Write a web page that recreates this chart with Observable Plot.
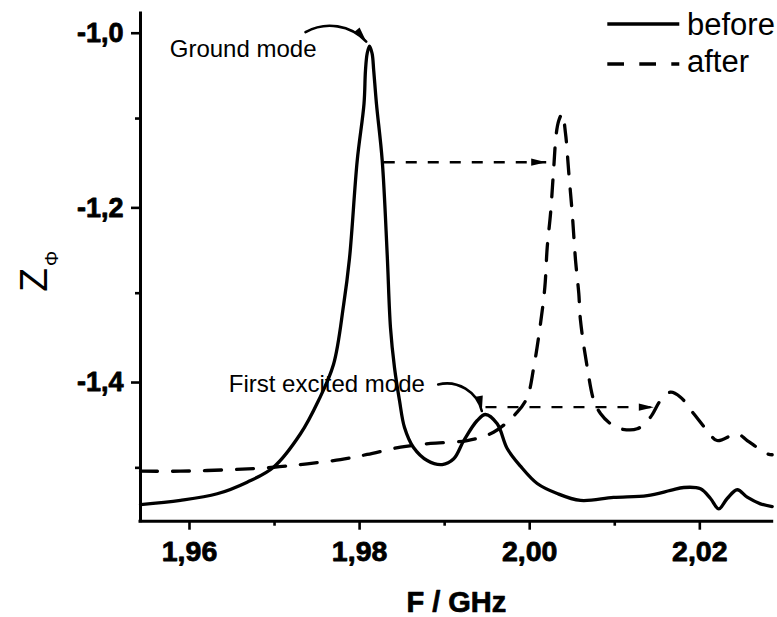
<!DOCTYPE html>
<html><head><meta charset="utf-8">
<script src="https://cdn.jsdelivr.net/npm/d3@7"></script>
<script src="https://cdn.jsdelivr.net/npm/@observablehq/plot@0.6"></script>
<style>
body{margin:0;background:#fff;}
#wrap{position:relative;width:777px;height:617px;}
#wrap svg text{font-family:'Liberation Sans',Arial,Helvetica,sans-serif;}
#legend{position:absolute;left:0;top:0;pointer-events:none}
</style></head><body><div id="wrap"></div>
<script>
// ---- data (F in GHz, Z_phi) ----
const beforeF = [1.95424,1.95894,1.96326,1.96678,1.96988,1.97305,1.97517,1.97693,1.97811,1.97881,1.97972,1.98052,1.98069,1.98089,1.98116,1.98147,1.98166,1.98198,1.98266,1.98324,1.98363,1.98410,1.98469,1.98528,1.98634,1.98795,1.98971,1.99107,1.99225,1.99383,1.99480,1.99618,1.99735,1.99892,2.00088,2.00323,2.00597,2.00985,2.01382,2.01655,2.01812,2.02008,2.02126,2.02223,2.02322,2.02440,2.02557,2.02713,2.02851];
const beforeZ = [-1.5420,-1.5373,-1.5297,-1.5164,-1.4993,-1.4610,-1.4229,-1.3817,-1.3141,-1.2603,-1.1481,-1.0828,-1.0450,-1.0255,-1.0170,-1.0255,-1.0450,-1.0828,-1.1481,-1.2546,-1.3393,-1.3851,-1.4229,-1.4538,-1.4767,-1.4916,-1.4962,-1.4896,-1.4687,-1.4458,-1.4389,-1.4496,-1.4778,-1.4981,-1.5179,-1.5294,-1.5373,-1.5339,-1.5317,-1.5259,-1.5225,-1.5240,-1.5351,-1.5470,-1.5351,-1.5251,-1.5336,-1.5412,-1.5443];
const afterF = [1.95424,1.95894,1.96517,1.96988,1.97384,1.97775,1.98089,1.98481,1.98834,1.99265,1.99574,1.99853,1.99971,2.00048,2.00127,2.00178,2.00206,2.00245,2.00283,2.00312,2.00342,2.00382,2.00421,2.00460,2.00500,2.00539,2.00577,2.00597,2.00676,2.00754,2.00832,2.00950,2.01068,2.01264,2.01420,2.01538,2.01655,2.01773,2.01929,2.02087,2.02204,2.02440,2.02557,2.02792,2.02851];
const afterZ = [-1.5038,-1.5038,-1.5019,-1.4993,-1.4954,-1.4905,-1.4847,-1.4763,-1.4721,-1.4687,-1.4592,-1.4363,-1.4191,-1.3847,-1.3347,-1.2931,-1.2473,-1.2087,-1.1557,-1.1175,-1.1023,-1.0946,-1.1171,-1.1629,-1.2087,-1.2626,-1.3003,-1.3312,-1.3847,-1.4229,-1.4378,-1.4496,-1.4553,-1.4553,-1.4420,-1.4229,-1.4134,-1.4191,-1.4381,-1.4572,-1.4687,-1.4610,-1.4687,-1.4839,-1.4850];
const xMajor = [1.96, 1.98, 2.00, 2.02];
const xMinor = [1.97, 1.99, 2.01];
const yMajor = [-1.0, -1.2, -1.4];
const yMinor = [-1.1, -1.3, -1.5];
const xRange = [1.95424, 2.02851];
const yRange = [-1.5611, -0.9797];
// shift arrows (dashed, horizontal)
const shiftF1 = [1.98284, 1.99480];
const shiftF2 = [2.00194, 2.01459];
const shiftZ = [-1.1500, -1.4305];
// mode labels and their pointers
const labelText = ["Ground mode", "First excited mode"];
const labelF = [1.95768, 1.96462];
const labelZ = [-1.0202, -1.4046];
const pointerF1 = [1.97364, 1.98924];
const pointerZ1 = [-1.0011, -1.4046];
const pointerF2 = [1.98078, 1.99437];
const pointerZ2 = [-1.0118, -1.4349];
const pointerBend = [38, 45];
const pointerAngle = [51, 80];
const seriesNames = ["before", "after"];

// ---- tables ----
const before = beforeF.map((f, i) => ({f, z: beforeZ[i]}));
const after = afterF.map((f, i) => ({f, z: afterZ[i]}));
const shifts = shiftF1.map((f, i) => ({f1: f, f2: shiftF2[i], z: shiftZ[i]}));
const labels = labelText.map((t, i) => ({t, f: labelF[i], z: labelZ[i]}));
const pointers = pointerF1.map((f, i) => ({f1: f, z1: pointerZ1[i], f2: pointerF2[i], z2: pointerZ2[i], bend: pointerBend[i], angle: pointerAngle[i]}));
const heads = [
  ...shifts.map(s => ({f: s.f2, z: s.z, angle: 0})),
  ...pointers.map(p => ({f: p.f2, z: p.z2, angle: p.angle}))
];
const headSymbol = {draw(ctx) { ctx.moveTo(0, 0); ctx.lineTo(-15, -3.6); ctx.lineTo(-15, 3.6); ctx.closePath(); }};
const fmt1 = d => d.toFixed(1).replace(".", ",");
const fmt2 = d => d.toFixed(2).replace(".", ",");

const chart = Plot.plot({
  width: 777, height: 617,
  marginLeft: 140, marginRight: 5.3, marginTop: 13, marginBottom: 96.3,
  x: {domain: xRange},
  y: {domain: yRange},
  style: {background: "white", color: "black", fontFamily: "'Liberation Sans', Arial, sans-serif"},
  marks: [
    Plot.axisY({ticks: yMajor, tickSize: 9, tickPadding: 8, dy: 2, tickFormat: fmt1, fontSize: 27, fontWeight: "bold", textStroke: "black", textStrokeWidth: 0.8, strokeWidth: 2.6, label: null}),
    Plot.axisY({ticks: yMinor, tickSize: 5, tickFormat: () => "", strokeWidth: 2.6, label: null}),
    Plot.axisX({ticks: xMajor, tickSize: 9, tickPadding: 11, tickFormat: fmt2, fontSize: 28.5, fontWeight: "bold", textStroke: "black", textStrokeWidth: 0.8, strokeWidth: 2.6, label: null}),
    Plot.axisX({ticks: xMinor, tickSize: 5, tickFormat: () => "", strokeWidth: 2.6, label: null}),
    Plot.ruleX([xRange[0]], {stroke: "black", strokeWidth: 3, strokeLinecap: "square"}),
    Plot.ruleY([yRange[0]], {stroke: "black", strokeWidth: 3, strokeLinecap: "square"}),
    Plot.line(after, {x: "f", y: "z", stroke: "black", strokeWidth: 3.3, strokeDasharray: "17,15", curve: "catmull-rom"}),
    Plot.line(before, {x: "f", y: "z", stroke: "black", strokeWidth: 3.3, curve: "catmull-rom"}),
    Plot.link(shifts, {x1: "f1", x2: "f2", y1: "z", y2: "z", stroke: "black", strokeWidth: 2.4, strokeDasharray: "11,11"}),
    ...pointers.map(p => Plot.arrow([p], {x1: "f1", y1: "z1", x2: "f2", y2: "z2", bend: p.bend, headLength: 0, stroke: "black", strokeWidth: 2.6})),
    Plot.dot(heads, {x: "f", y: "z", rotate: "angle", symbol: headSymbol, r: 5, fill: "black", stroke: null}),
    Plot.text(labels, {x: "f", y: "z", text: "t", textAnchor: "start", lineAnchor: "middle", fontSize: 24, fill: "black"}),
    Plot.text(["F / GHz"], {text: d => d, frameAnchor: "bottom", dy: 81.3, lineAnchor: "middle", fontSize: 29, fontWeight: "bold", fill: "black", stroke: "black", strokeWidth: 0.7}),
    Plot.text(["Z"], {text: d => d, frameAnchor: "left", rotate: -90, dx: -105.5, dy: 12.6, textAnchor: "middle", lineAnchor: "middle", fontSize: 39, fill: "black"}),
    Plot.text(["\u03A6"], {text: d => d, frameAnchor: "left", rotate: -90, dx: -88.1, dy: -8.9, textAnchor: "middle", lineAnchor: "middle", fontSize: 19, fill: "black"})
  ]
});
const wrap = document.getElementById("wrap");
wrap.appendChild(chart);

// legend overlay
const ns = "http://www.w3.org/2000/svg";
const lg = document.createElementNS(ns, "svg");
lg.setAttribute("id", "legend");
lg.setAttribute("width", 777);
lg.setAttribute("height", 90);
const dashes = [null, "16.7,15.3"];
seriesNames.forEach((name, i) => {
  const ly = 24 + i * 40;
  const line = document.createElementNS(ns, "line");
  line.setAttribute("x1", 607.3); line.setAttribute("x2", 679.3);
  line.setAttribute("y1", ly); line.setAttribute("y2", ly);
  line.setAttribute("stroke", "black"); line.setAttribute("stroke-width", 3.3);
  if (dashes[i]) line.setAttribute("stroke-dasharray", dashes[i]);
  lg.appendChild(line);
  const t = document.createElementNS(ns, "text");
  t.setAttribute("x", 687); t.setAttribute("y", 34.5 + i * 37.5);
  t.setAttribute("font-size", 31);
  t.setAttribute("fill", "black");
  t.textContent = name;
  lg.appendChild(t);
});
wrap.appendChild(lg);
</script></body></html>
